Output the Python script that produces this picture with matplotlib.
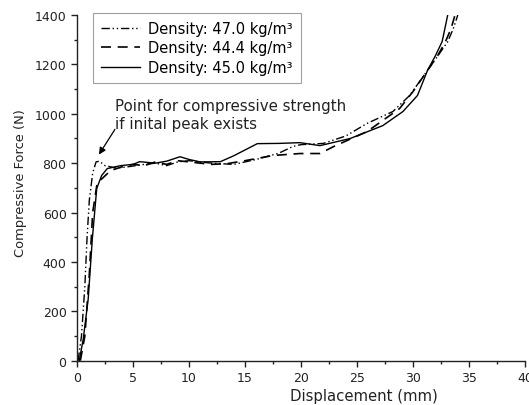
import matplotlib
matplotlib.use("Agg")
import matplotlib.pyplot as plt
from matplotlib.ticker import MultipleLocator

plt.rcParams['font.family'] = ['DejaVu Sans']

labels = ["Density: 47.0 kg/m³", "Density: 44.4 kg/m³", "Density: 45.0 kg/m³"]

# Density 47.0 (dash-dot)
x_470 = [0.1, 0.4, 0.7, 0.9, 1.1, 1.4, 1.7, 2.0, 2.5, 3.5, 4.5, 6, 7, 8, 9, 10, 12, 14, 15, 16, 18, 19.3,
         20, 22, 24, 25.9, 28.2, 29.7, 31.3, 32.3, 33.1, 33.6, 34.0]
f_470 = [0, 100, 300, 500, 650, 760, 805, 808, 790, 780, 785, 795, 800, 790, 805, 810, 800, 795, 805, 815,
         840, 868, 875, 880, 910, 961, 1009, 1074, 1176, 1240, 1292, 1345, 1400]

# Density 44.4 (dashed)
x_444 = [0.3, 0.7, 1.1, 1.4, 1.8, 2.3, 3, 4, 5, 6, 7, 8, 9, 10, 11, 12, 13.4, 15, 17.5, 19.9, 21.7, 22.9,
         25.9, 28.8, 30.0, 31.3, 32.2, 32.9, 33.4, 33.75]
f_444 = [0, 100, 350, 600, 720, 740, 770, 785, 795, 790, 805, 795, 810, 805, 800, 795, 798, 810, 831, 839,
         839, 867, 928, 1021, 1090, 1176, 1235, 1292, 1345, 1400]

# Density 45.0 (solid)
x_450 = [0.2, 0.56, 1.0, 1.37, 1.76, 2.2, 2.7, 3.9, 5, 5.6, 7, 8, 9.2, 10, 11, 12.8, 14, 16.1, 18, 19.9,
         21.7, 24.4, 27.3, 29.1, 30.4, 31.3, 32.0, 32.6, 33.1]
f_450 = [0, 88, 250, 494, 697, 750, 778, 790, 795, 806, 800, 808, 826, 815, 805, 806, 830, 879, 880, 883,
         871, 900, 952, 1009, 1074, 1176, 1235, 1292, 1400]

W, H = 529, 406
fig = plt.figure(figsize=(W / 100, H / 100), dpi=100)
ax = fig.add_axes([77 / W, 44.3 / H, 448 / W, 345.7 / H])

ax.plot(x_470, f_470, color='black', lw=1.0, linestyle=(0, (6, 2, 1, 2, 1, 2)), label=labels[0])
ax.plot(x_444, f_444, color='black', lw=1.2, linestyle=(0, (6, 4)), label=labels[1])
ax.plot(x_450, f_450, color='black', lw=1.0, linestyle='-', label=labels[2])

ax.set_xlim(0, 40)
ax.set_ylim(0, 1400)
ax.xaxis.set_major_locator(MultipleLocator(5))
ax.xaxis.set_minor_locator(MultipleLocator(2.5))
ax.yaxis.set_major_locator(MultipleLocator(200))
ax.yaxis.set_minor_locator(MultipleLocator(100))
ax.tick_params(which='major', direction='out', length=4.5, width=1, labelsize=9, pad=3,
               colors='#222222')
ax.tick_params(which='minor', direction='out', length=2.5, width=1, colors='#222222')
ax.spines['top'].set_visible(False)
ax.spines['right'].set_visible(False)
for s in ['left', 'bottom']:
    ax.spines[s].set_linewidth(1)
    ax.spines[s].set_color('#222222')

ax.set_xlabel("Displacement (mm)", fontsize=10.7, color='#222222')
ax.xaxis.label.set_va('baseline')
ax.xaxis.set_label_coords((364 - 77) / 448, -(401.5 - 361.7) / 345.7)
ax.set_ylabel("Compressive Force (N)", fontsize=9.4, color='#222222')
ax.yaxis.set_label_coords(-50 / 448, (361.7 - 183) / 345.7)

leg = ax.legend(loc='upper left', bbox_to_anchor=(16 / 448, 1.0 + 2 / 345.7), frameon=True,
                prop={'size': 10.5},
                fancybox=False, handlelength=2.67, borderpad=0.55, labelspacing=0.3,
                handletextpad=0.55, borderaxespad=0.0)
leg.get_frame().set_edgecolor('#888888')
leg.get_frame().set_linewidth(0.8)

ax.text(3.40, 1062, "Point for compressive strength\nif inital peak exists", fontsize=10.8,
        color='#222222', ha='left', va='top', linespacing=1.2)
ax.annotate("", xy=(1.96, 835), xytext=(3.39, 937),
            arrowprops=dict(arrowstyle='-|>', color='black', lw=0.9, mutation_scale=10,
                            shrinkA=0, shrinkB=0))

fig.savefig("out.png", dpi=100)
